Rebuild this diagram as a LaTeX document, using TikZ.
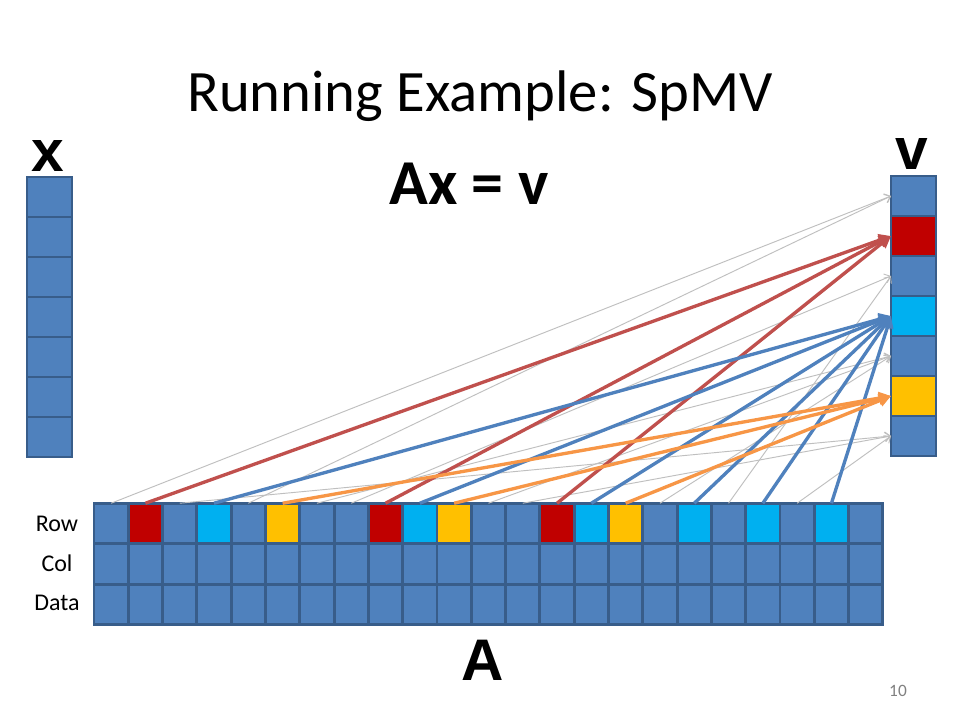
\documentclass[tikz,border=0pt]{standalone}
\usepackage{fontspec}
\setmainfont{Carlito}
\newfontfamily\arialfont{Liberation Sans}
\usepackage{tikz}
\usetikzlibrary{positioning,arrows.meta,calc}

\definecolor{cellblue}{HTML}{4F81BD}
\definecolor{cellline}{HTML}{385D8A}
\definecolor{cellred}{HTML}{C00000}
\definecolor{cellcyan}{HTML}{00B0F0}
\definecolor{cellyellow}{HTML}{FFC000}
\definecolor{arrred}{HTML}{C0504D}
\definecolor{arrblue}{HTML}{4F81BD}
\definecolor{arrorange}{HTML}{F79646}
\definecolor{arrgray}{HTML}{BFBFBF}

\tikzset{
  cell/.style={draw=cellline, line width=2.1pt, fill=cellblue,
    minimum width=25.7pt, minimum height=30.4pt, inner sep=0pt, outer sep=0pt},
  vcell/.style={cell, minimum width=33.75pt, minimum height=30pt},
  thinarrow/.style={draw=arrgray, line width=0.7pt, -{Straight Barb[length=4pt,width=7pt]}},
  fatarrow/.style={line width=2.5pt, -{Triangle[length=9pt,width=9pt]}},
  big/.style={font=\arialfont\fontsize{44}{44}\selectfont\bfseries, inner sep=0pt, anchor=base},
}

\begin{document}
\begin{tikzpicture}[x=0.75pt,y=-0.75pt]
  \useasboundingbox[fill=white] (0,0) rectangle (960,720);

  % titles
  \node[anchor=base, inner sep=0pt, font=\fontsize{44}{44}\selectfont] (title) at (480,112) {Running Example: SpMV};
  \node[anchor=base, inner sep=0pt, font=\fontsize{48}{48}\selectfont\bfseries] (eq) at (469,205) {Ax = v};

  % vectors x and v
  \foreach \i in {0,...,6} {
    \node[vcell] (x\i) at (49.5,{197+40*\i}) {};
  }
  \foreach \i/\c in {0/cellblue,1/cellred,2/cellblue,3/cellcyan,4/cellblue,5/cellyellow,6/cellblue} {
    \node[vcell, fill=\c] (v\i) at (913.5,{196+40*\i}) {};
  }
  \node[big] (xlabel) at (48,172) {x};
  \node[big] (vlabel) at (912,170) {v};

  % matrix A: row, col, data
  \foreach \i/\c in {0/cellblue,1/cellred,2/cellblue,3/cellcyan,4/cellblue,5/cellyellow,
      6/cellblue,7/cellblue,8/cellred,9/cellcyan,10/cellyellow,11/cellblue,12/cellblue,
      13/cellred,14/cellcyan,15/cellyellow,16/cellblue,17/cellcyan,18/cellblue,
      19/cellcyan,20/cellblue,21/cellcyan,22/cellblue} {
    \node[cell, fill=\c] (r\i) at ({94+34.3*(\i+0.5)},523.5) {};
    \node[cell] (c\i) at ({94+34.3*(\i+0.5)},564) {};
    \node[cell] (d\i) at ({94+34.3*(\i+0.5)},604.5) {};
  }
  \node[anchor=base, font=\fontsize{18}{18}\selectfont] (rowlab) at (57,531) {Row};
  \node[anchor=base, font=\fontsize{18}{18}\selectfont] (collab) at (57,571) {Col};
  \node[anchor=base, font=\fontsize{18}{18}\selectfont] (datalab) at (57,610) {Data};
  \node[big] (alabel) at (483,680) {A};

  % slide number
  \node[anchor=base, text=gray, font=\fontsize{13}{13}\selectfont] (num) at (898,696) {10};

  % zero entries
  \foreach \i/\j in {0/0,2/6,4/0,6/4,7/2,11/4,12/6,16/4,18/2,20/6}
    \draw[thinarrow] (r\i.north) -- (v\j.west);

  % nonzero entries
  \foreach \i in {1,8,13}
    \draw[fatarrow, draw=arrred, fill=arrred] (r\i.north) -- (v1.west);
  \foreach \i in {3,9,14,17,19,21}
    \draw[fatarrow, draw=arrblue, fill=arrblue] (r\i.north) -- (v3.west);
  \foreach \i in {5,10,15}
    \draw[fatarrow, draw=arrorange, fill=arrorange] (r\i.north) -- (v5.west);

\end{tikzpicture}
\end{document}
